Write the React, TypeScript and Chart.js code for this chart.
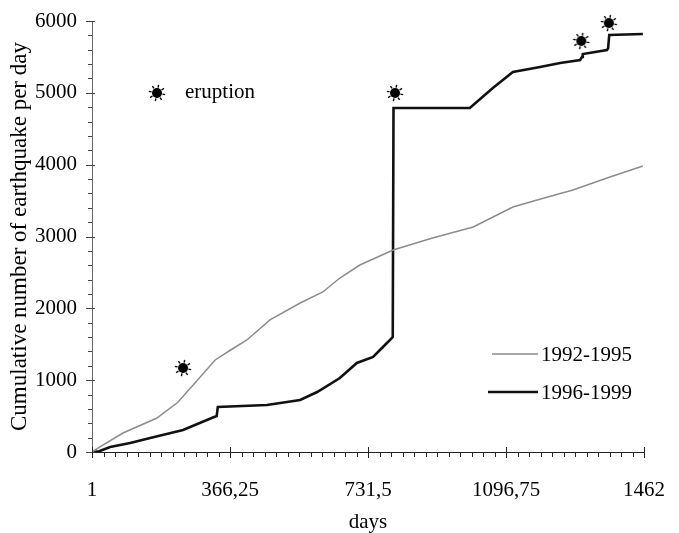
import React, { useEffect, useRef } from 'react';
import { Chart, registerables } from 'chart.js';
Chart.register(...registerables);

const xTickValues = [1, 366.25, 731.5, 1096.75, 1462];
const yTickValues = [0, 1000, 2000, 3000, 4000, 5000, 6000];

const grayDays = [1, 22, 83, 173, 229, 327, 368, 411, 472, 552, 612, 657, 710, 798, 900, 1010, 1115, 1200, 1274, 1370, 1459];
const grayValues = [0, 70, 264, 473, 696, 1281, 1420, 1559, 1838, 2074, 2228, 2422, 2603, 2812, 2975, 3132, 3411, 3540, 3648, 3825, 3982];

const blackDays = [1, 20, 49, 102, 155, 242, 321, 331, 334, 464, 552, 597, 657, 702, 745, 771, 795, 797, 799, 1001, 1062, 1115, 1187, 1240, 1293, 1298, 1300, 1364, 1367, 1370, 1459];
const blackValues = [0, 10, 70, 125, 195, 306, 480, 500, 627, 654, 724, 835, 1030, 1239, 1323, 1462, 1587, 1600, 4789, 4789, 5068, 5290, 5360, 5416, 5457, 5500, 5540, 5597, 5620, 5805, 5820];

const eruptionDays = [242, 803, 1296, 1369];
const eruptionValues = [1169, 4998, 5722, 5972];

const FONT = 'Liberation Serif, Times New Roman, serif';

function makeMarker(): HTMLCanvasElement {
  const c = document.createElement('canvas');
  c.width = 18;
  c.height = 18;
  const g = c.getContext('2d')!;
  g.fillStyle = '#000';
  g.strokeStyle = '#000';
  g.beginPath();
  g.arc(9, 9, 5, 0, Math.PI * 2);
  g.fill();
  g.lineWidth = 1.4;
  for (let i = 0; i < 8; i++) {
    const a = (i * Math.PI) / 4 + 0.2;
    g.beginPath();
    g.moveTo(9 + Math.cos(a) * 5.5, 9 + Math.sin(a) * 5.5);
    g.lineTo(9 + Math.cos(a) * 8.3, 9 + Math.sin(a) * 8.3);
    g.stroke();
  }
  return c;
}

export default function App() {
  const ref = useRef<HTMLCanvasElement>(null);
  useEffect(() => {
    document.body.style.margin = '0';
    const marker = makeMarker();

    const decor = {
      id: 'decor',
      afterDraw(chart: any) {
        const ctx = chart.ctx;
        const xs = chart.scales.x;
        const ys = chart.scales.y;
        const area = chart.chartArea;
        ctx.save();
        // y ticks
        ctx.strokeStyle = '#444';
        ctx.lineWidth = 1;
        for (let v = 0; v <= 6000; v += 200) {
          const py = Math.round(ys.getPixelForValue(v)) + 0.5;
          ctx.beginPath();
          if (v % 1000 === 0) {
            ctx.moveTo(area.left - 6, py);
            ctx.lineTo(area.left + 3, py);
          } else {
            ctx.moveTo(area.left - 4, py);
            ctx.lineTo(area.left, py);
          }
          ctx.stroke();
        }
        // x ticks
        ctx.strokeStyle = '#222';
        const step = 1461 / 48;
        for (let i = 0; i <= 48; i++) {
          const v = 1 + i * step;
          const px = Math.round(xs.getPixelForValue(v)) + 0.5;
          ctx.beginPath();
          if (i % 12 === 0) {
            ctx.moveTo(px, area.bottom - 5);
            ctx.lineTo(px, area.bottom + 6);
          } else {
            ctx.moveTo(px, area.bottom);
            ctx.lineTo(px, area.bottom + 5);
          }
          ctx.stroke();
        }
        // eruption legend
        ctx.drawImage(marker, 157 - 9, 93 - 9);
        ctx.fillStyle = '#000';
        ctx.font = `21px ${FONT}`;
        ctx.textBaseline = 'middle';
        ctx.textAlign = 'left';
        ctx.fillText('eruption', 185, 92);
        // series legend
        ctx.strokeStyle = '#8c8c8c';
        ctx.lineWidth = 1.5;
        ctx.beginPath();
        ctx.moveTo(492, 354);
        ctx.lineTo(538, 354);
        ctx.stroke();
        ctx.strokeStyle = '#111';
        ctx.lineWidth = 2.6;
        ctx.beginPath();
        ctx.moveTo(488, 392);
        ctx.lineTo(538, 392);
        ctx.stroke();
        ctx.fillText('1992-1995', 541, 355);
        ctx.fillText('1996-1999', 541, 393);
        ctx.restore();
      },
    };

    const chart = new Chart(ref.current!, {
      type: 'line',
      data: {
        datasets: [
          {
            label: '1992-1995',
            data: grayDays.map((d, i) => ({ x: d, y: grayValues[i] })),
            borderColor: '#8c8c8c',
            borderWidth: 1.5,
            pointRadius: 0,
            tension: 0,
          },
          {
            label: '1996-1999',
            data: blackDays.map((d, i) => ({ x: d, y: blackValues[i] })),
            borderColor: '#111',
            borderWidth: 2.6,
            pointRadius: 0,
            tension: 0,
          },
          {
            label: 'eruption',
            data: eruptionDays.map((d, i) => ({ x: d, y: eruptionValues[i] })),
            showLine: false,
            clip: false as any,
            pointStyle: marker as any,
            pointRadius: 9,
            borderColor: '#000',
            backgroundColor: '#000',
          },
        ],
      },
      options: {
        animation: false,
        responsive: true,
        maintainAspectRatio: false,
        layout: { padding: { left: 0, right: 35, top: 21, bottom: 0 } },
        plugins: { legend: { display: false }, tooltip: { enabled: false } },
        scales: {
          x: {
            type: 'linear',
            min: 1,
            max: 1462,
            afterBuildTicks: (s: any) => {
              s.ticks = xTickValues.map((v) => ({ value: v }));
            },
            afterFit: (s: any) => {
              s.height = 81;
              s.paddingLeft = 0;
              s.paddingRight = 0;
            },
            grid: { display: false, drawTicks: false },
            border: { display: true, color: '#222', width: 1 },
            ticks: {
              padding: 26,
              maxRotation: 0,
              color: '#000',
              font: { family: FONT, size: 21 },
              callback: (v: any) => String(v).replace('.', ','),
            },
            title: {
              display: true,
              text: 'days',
              color: '#000',
              font: { family: FONT, size: 21, lineHeight: 1 },
              padding: { top: 0, bottom: 0 },
            },
          },
          y: {
            min: 0,
            max: 6000,
            afterBuildTicks: (s: any) => {
              s.ticks = yTickValues.map((v) => ({ value: v }));
            },
            afterFit: (s: any) => {
              s.width = 92;
              s.paddingTop = 0;
              s.paddingBottom = 0;
            },
            grid: { display: false, drawTicks: false },
            border: { display: true, color: '#666', width: 1 },
            ticks: {
              padding: 15,
              color: '#000',
              font: { family: FONT, size: 21 },
              callback: (v: any) => String(v),
            },
            title: {
              display: true,
              text: 'Cumulative number of earthquake per day',
              color: '#000',
              font: { family: FONT, size: 23, lineHeight: 1 },
              padding: { top: 8, bottom: 0 },
            },
          },
        },
      },
      plugins: [decor],
    });
    return () => chart.destroy();
  }, []);
  return (
    <div style={{ width: 679, height: 533, position: 'relative' }}>
      <canvas ref={ref} />
    </div>
  );
}
